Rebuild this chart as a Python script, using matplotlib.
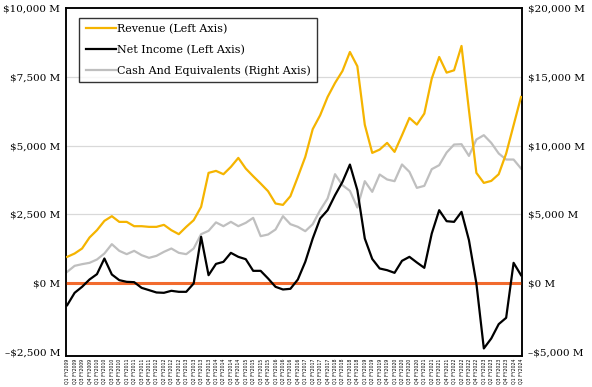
import matplotlib
matplotlib.use("Agg")
import matplotlib.pyplot as plt
from matplotlib.ticker import FuncFormatter

# Quarterly figures, $ millions
quarters = [f"Q{q} FY{y}" for y in range(2009, 2025) for q in range(1, 5)][:62]

revenue = [956, 1078, 1260, 1660, 1926, 2265, 2435, 2228, 2228, 2071,
           2071, 2047, 2047, 2120, 1926, 1781, 2047, 2289, 2774, 4010,
           4082, 3961, 4227, 4554, 4167, 3888, 3622, 3343, 2896, 2846,
           3162, 3864, 4590, 5600, 6105, 6770, 7279, 7715, 8405, 7886,
           5760, 4736, 4857, 5100, 4773, 5378, 6008, 5766, 6166, 7437,
           8224, 7655, 7740, 8624, 6287, 4010, 3645, 3718, 3961, 4712,
           5742, 6770]

net_income = [-800, -351, -133, 133, 327, 896, 315, 109, 48, 36,
              -170, -254, -339, -351, -278, -315, -315, -12, 1684, 290,
              700, 775, 1102, 957, 872, 448, 448, 170, -133, -230,
              -206, 133, 775, 1623, 2350, 2653, 3198, 3682, 4312, 3380,
              1623, 880, 533, 472, 375, 812, 957, 751, 557, 1805,
              2653, 2253, 2229, 2592, 1563, -12, -2374, -2011, -1490, -1260,
              739, 290]

cash = [824, 1260, 1381, 1478, 1720, 2156, 2835, 2350, 2108, 2350,
        2036, 1841, 1987, 2277, 2520, 2205, 2108, 2520, 3562, 3804,
        4420, 4144, 4459, 4144, 4386, 4749, 3417, 3538, 3901, 4871,
        4289, 4095, 3780, 4289, 5307, 6156, 7924, 7125, 6712, 5500,
        7415, 6640, 7900, 7540, 7415, 8630, 8094, 6930, 7076, 8288,
        8580, 9500, 10080, 10105, 9253, 10446, 10760, 10200, 9430, 8990,
        8990, 8337]

plt.rcParams["font.family"] = "DejaVu Serif"


def money(v, pos):
    if v < 0:
        return f"\u2013${abs(v):,.0f} M"
    return f"${v:,.0f} M"


fig, ax = plt.subplots(figsize=(5.92, 3.87), dpi=100)
fig.subplots_adjust(left=0.111, right=0.882, top=0.979, bottom=0.080)
ax2 = ax.twinx()

x = list(range(len(quarters)))
ax.set_zorder(ax2.get_zorder() + 1)
ax.patch.set_visible(False)

ax2.plot(x, cash, color="#bfbfbf", lw=1.6, label="Cash And Equivalents (Right Axis)")
ax.axhline(0, color="#f26b2e", lw=2.2, zorder=1)
l1, = ax.plot(x, revenue, color="#f5b400", lw=1.6, label="Revenue (Left Axis)", zorder=3)
l2, = ax.plot(x, net_income, color="black", lw=1.6, label="Net Income (Left Axis)", zorder=3)
l3 = ax2.get_lines()[0]

ax.set_ylim(-2650, 10000)
ax2.set_ylim(-5300, 20000)
ax.set_yticks([-2500, 0, 2500, 5000, 7500, 10000])
ax2.set_yticks([-5000, 0, 5000, 10000, 15000, 20000])
ax.yaxis.set_major_formatter(FuncFormatter(money))
ax2.yaxis.set_major_formatter(FuncFormatter(money))
ax.set_xlim(-0.2, len(quarters) - 0.85)
ax.set_xticks(x)
ax.set_xticklabels(quarters, rotation=90, fontsize=3.3, family="DejaVu Sans")

for a in (ax, ax2):
    a.tick_params(axis="both", length=0, labelsize=7.5, pad=4)
    for s in a.spines.values():
        s.set_linewidth(1.1)
ax.tick_params(axis="x", pad=2, labelsize=3.3)

ax2.grid(False)
for v in [2500, 5000, 7500]:
    ax2.axhline(v * 2, color="#d9d9d9", lw=0.9, zorder=0)

leg = ax.legend(handles=[l1, l2, l3], loc="upper left", bbox_to_anchor=(0.03, 0.972),
                borderaxespad=0, fontsize=8, frameon=True, fancybox=False,
                edgecolor="black", handlelength=2.7, handletextpad=0.15,
                borderpad=0.55, labelspacing=0.95)
leg.get_frame().set_linewidth(1.0)

plt.savefig("out.png")
